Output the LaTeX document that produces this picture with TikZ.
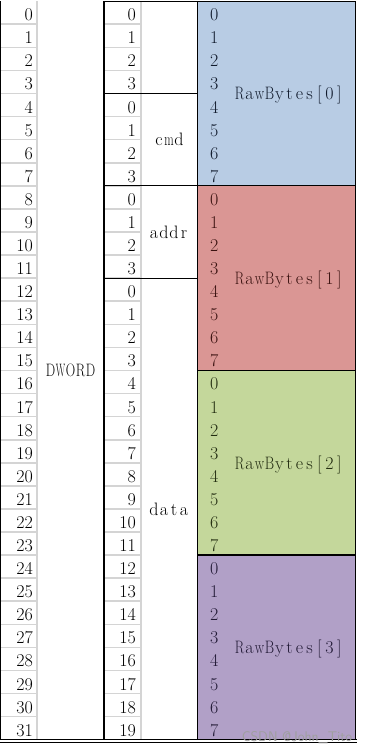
\documentclass[tikz,border=0pt]{standalone}
\usepackage{fontspec}
\usepackage{graphicx}
\definecolor{cblue}{HTML}{B8CCE4}
\definecolor{cred}{HTML}{DA9694}
\definecolor{cgreen}{HTML}{C4D79B}
\definecolor{cpurple}{HTML}{B1A0C7}
\definecolor{tblue}{HTML}{101A2C}
\definecolor{tred}{HTML}{3A1210}
\definecolor{tgreen}{HTML}{222C10}
\definecolor{tpurple}{HTML}{221A36}
\definecolor{gridg}{HTML}{D4D4D4}
\newcommand\fwchar[1]{\setbox0=\hbox{#1}\ifdim\wd0>9.4pt\makebox[10pt]{\resizebox{9.4pt}{\height}{#1}}\else\makebox[10pt]{#1}\fi}
\def\fwend{\fwend}
\def\fwloop#1{\ifx#1\fwend\else\fwchar{#1}\expandafter\fwloop\fi}
\newcommand\fw[1]{\fwloop#1\fwend}
\begin{document}
\begin{tikzpicture}[x=1pt,y=-1pt,
  blk/.style={line width=1.3pt, black},
  grd/.style={line width=1.6pt, gridg},
  num/.style={anchor=base east, inner sep=0pt, font=\fontsize{18}{20}\selectfont},
  bnum/.style={anchor=base west, inner sep=0pt, font=\fontsize{18}{20}\selectfont},
  lbl/.style={anchor=base, inner sep=0pt, font=\fontsize{18}{20}\selectfont}]
\useasboundingbox (0,0) rectangle (370,754);
\fill[white] (0,0) rectangle (370,754);
% coloured blocks
\fill[cblue] (197.5,1.2) rectangle (355.8,185.84);
\fill[cred] (197.5,185.84) rectangle (355.8,370.48);
\fill[cgreen] (197.5,370.48) rectangle (355.8,555.12);
\fill[cpurple] (197.5,555.12) rectangle (355.8,739.76);
% grey grid
\foreach \i in {1,...,31} {
  \pgfmathsetmacro\yy{1.2+23.08*\i}
  \draw[grd] (0,\yy) -- (37,\yy);
  \draw[grd] (104,\yy) -- (141,\yy);
}
\draw[grd] (37,1.2) -- (37,739.76);
\draw[grd] (141,1.2) -- (141,739.76);
% black lines
\draw[blk] (0.65,1.2) -- (0.65,739.76);
\draw[blk] (104,1.2) -- (104,739.76);
\draw[blk] (197.5,1.2) -- (197.5,739.76);
\draw[blk] (355.8,1.2) -- (355.8,739.76);
\draw[blk] (104,1.2) -- (355.8,1.2);
\draw[blk] (104,93.52) -- (197.5,93.52);
\draw[blk] (104,185.84) -- (355.8,185.84);
\draw[blk] (104,278.16) -- (197.5,278.16);
\draw[blk] (197.5,370.48) -- (355.8,370.48);
\draw[blk] (197.5,555.12) -- (355.8,555.12);
\draw[line width=1pt] (0,739.76) -- (357,739.76);
\draw[line width=1pt] (0,742.3) -- (357,742.3);
% numbers
\foreach \i in {0,...,31} {
  \pgfmathsetmacro\yb{1.2+23.08*\i+19.5}
  \pgfmathtruncatemacro\v{\i<12 ? mod(\i,4) : \i-12}
  \node[num] (a\i) at (33,\yb) {\i};
  \node[num] (s\i) at (136,\yb) {\v};
}
\foreach \bk/\tc in {0/tblue,1/tred,2/tgreen,3/tpurple} {
  \foreach \j in {0,...,7} {
    \pgfmathsetmacro\yb{1.2+23.08*(8*\bk+\j)+19.5}
    \node[bnum, text=\tc] (c\bk\j) at (210,\yb) {\j};
  }
  \pgfmathsetmacro\yc{1.2+23.08*(8*\bk+4)+6.2}
  \node[lbl, text=\tc] (rb\bk) at (289.5,\yc) {\fw{RawBytes[\bk]}};
}
\node[lbl] (dword) at (70.5,376.68) {\fw{DWORD}};
\node[lbl] (cmd) at (169,145.88) {\fw{cmd}};
\node[lbl] (addr) at (169,238.2) {\fw{addr}};
\node[lbl] (data) at (169,515.16) {\fw{data}};
\node[font=\sffamily\fontsize{14}{14}\selectfont, text=gray!75, inner sep=0pt] (wm) at (297,738) {CSDN @John\_Tito};
\end{tikzpicture}
\end{document}
